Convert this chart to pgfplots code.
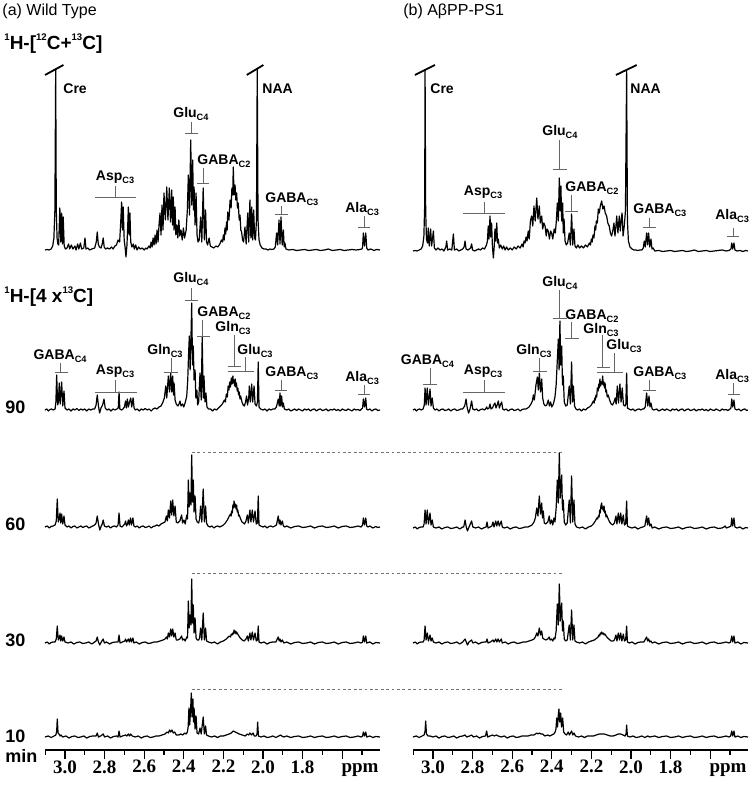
\documentclass[border=0pt]{standalone}
\usepackage{pgfplots}
\pgfplotsset{compat=1.18}
\usepackage{fontspec}
\setmainfont{Liberation Sans}
\newfontfamily\tnr{Liberation Serif}
\newcommand{\lab}[2]{\bfseries #1\raisebox{-0.4ex}{\fontsize{4.6}{5}\selectfont #2}}
\newcommand{\supr}[1]{\raisebox{0.95ex}{\fontsize{4.8}{5}\selectfont #1}}
\newcommand{\brk}[5]{\draw[annot] (axis cs:#1,#2) -- (axis cs:#1,#3); \draw[annot] (axis cs:#4,#3) -- (axis cs:#5,#3);}
\pgfplotsset{
 panel/.style={scale only axis, width=167.5pt, height=375pt,
  xmin=1.409, xmax=3.101, ymin=42, ymax=792, x dir=reverse,
  axis x line*=bottom, axis y line=none, clip=false,
  xtick={1.6,1.8,2.0,2.2,2.4,2.6,2.8,3.0},
  xticklabels={{},1.8,2.0,2.2,2.4,2.6,2.8,3.0},
  minor xtick={1.5,1.7,1.9,2.1,2.3,2.5,2.7,2.9,3.1},
  tick align=outside, major tick length=4.5pt, minor tick length=2.5pt,
  every tick/.style={black, line width=0.6pt},
  axis line style={line width=0.6pt},
  xticklabel style={font=\tnr\bfseries\fontsize{9.5}{11}\selectfont, inner sep=0.5pt},
  anchor=south west},
 spec/.style={black, line width=0.6pt, line join=round},
}
\tikzset{
 annot/.style={draw=black!60, line width=0.45pt},
 lbl/.style={font=\fontsize{7}{8}\selectfont, inner sep=0pt},
 side/.style={font=\fontsize{9}{10}\selectfont\bfseries, inner sep=0pt, anchor=base west},
 slash/.style={black, line width=0.9pt},
 dashln/.style={black!55, line width=0.5pt, dash pattern=on 1.4pt off 1.3pt},
}
\begin{document}
\begin{tikzpicture}
\path[use as bounding box] (0,0) rectangle (376.5pt,396pt);
%================ LEFT PANEL =================
\begin{axis}[panel, at={(22.5pt,21pt)}]
% top 1H-[12C+13C]
\addplot[spec] table[row sep=\\, y expr=\thisrowno{1}+542] {x y\\
3.101 0\\3.090 0.5\\3.080 0\\3.070 1\\3.062 4\\3.056 12\\3.051 40\\3.047 181\\3.044 40\\3.040 12\\3.036 6\\3.032 5\\3.026 42\\3.021 8\\3.017 37\\3.013 6\\3.009 33\\3.004 4\\2.998 1\\2.990 2\\2.982 6\\2.976 1\\2.968 5\\2.960 1\\2.950 4\\2.944 0\\2.936 6\\2.930 1\\2.922 7\\2.916 1\\2.905 2\\2.899 12\\2.894 1\\2.885 2\\2.875 0\\2.865 1\\2.850 2\\2.842 8\\2.837 18\\2.832 6\\2.826 3\\2.818 2\\2.812 6\\2.807 12\\2.802 3\\2.795 1\\2.785 2\\2.775 1\\2.765 3\\2.757 1\\2.748 4\\2.740 5\\2.732 10\\2.724 8\\2.718 30\\2.714 48\\2.710 20\\2.706 43\\2.701 10\\2.696 2\\2.692 -7\\2.687 5\\2.683 25\\2.680 43\\2.676 15\\2.672 37\\2.668 8\\2.662 3\\2.655 6\\2.650 1\\2.643 5\\2.636 0\\2.628 3\\2.620 1\\2.610 2\\2.600 0\\2.592 2\\2.585 1\\2.576 4\\2.570 2\\2.565 8\\2.560 3\\2.555 12\\2.550 5\\2.545 15\\2.540 6\\2.535 20\\2.530 8\\2.525 25\\2.520 37\\2.515 15\\2.510 45\\2.505 20\\2.500 57\\2.493 30\\2.486 63\\2.480 30\\2.473 62\\2.467 28\\2.461 60\\2.457 25\\2.453 53\\2.449 20\\2.444 43\\2.440 15\\2.435 25\\2.430 12\\2.425 30\\2.420 14\\2.414 20\\2.408 10\\2.402 22\\2.396 12\\2.388 20\\2.382 40\\2.377 75\\2.371 35\\2.365 110\\2.360 45\\2.355 90\\2.351 40\\2.348 63\\2.343 25\\2.338 57\\2.333 15\\2.328 8\\2.322 10\\2.315 33\\2.309 8\\2.302 62\\2.296 10\\2.290 40\\2.285 8\\2.280 5\\2.272 12\\2.266 4\\2.258 3\\2.248 2\\2.238 4\\2.228 3\\2.218 6\\2.210 10\\2.204 8\\2.200 15\\2.196 10\\2.192 22\\2.188 16\\2.184 28\\2.181 20\\2.178 38\\2.172 30\\2.166 50\\2.161 42\\2.157 62\\2.153 55\\2.150 83\\2.146 55\\2.141 65\\2.137 50\\2.133 57\\2.129 42\\2.125 47\\2.120 30\\2.116 35\\2.112 20\\2.108 18\\2.103 10\\2.098 8\\2.091 23\\2.085 6\\2.077 37\\2.072 8\\2.066 50\\2.061 12\\2.057 43\\2.052 10\\2.047 40\\2.042 12\\2.038 10\\2.033 30\\2.029 181\\2.025 30\\2.020 10\\2.014 5\\2.005 2\\1.995 1\\1.985 1\\1.975 0\\1.965 1\\1.955 0.5\\1.945 1\\1.938 3\\1.931 17\\1.926 5\\1.919 30\\1.914 6\\1.909 33\\1.903 5\\1.897 20\\1.893 3\\1.889 7\\1.884 1\\1.870 0\\1.850 0.5\\1.830 -0.5\\1.810 0\\1.790 0.5\\1.770 -0.5\\1.750 0\\1.730 0.5\\1.710 -0.5\\1.690 0\\1.670 1\\1.650 -0.5\\1.630 0\\1.610 0.5\\1.590 -0.5\\1.570 0\\1.550 0.5\\1.530 0\\1.510 0.5\\1.500 1\\1.497 3\\1.493 17\\1.487 4\\1.481 17\\1.476 2\\1.470 0\\1.455 1\\1.440 -0.5\\1.425 0.5\\1.409 0\\
};
% 90 min
\addplot[spec] table[row sep=\\, y expr=\thisrowno{1}+382] {x y\\
3.101 0\\3.092 1\\3.084 -1\\3.076 0.5\\3.068 1\\3.060 0\\3.050 1\\3.046 8\\3.042 35\\3.037 5\\3.033 8\\3.029 27\\3.024 6\\3.017 28\\3.011 4\\3.005 19\\3.000 2\\2.990 0\\2.980 1\\2.970 -1\\2.960 1\\2.950 0\\2.940 1.5\\2.930 -0.5\\2.920 1\\2.910 0\\2.900 1\\2.890 -1\\2.880 1\\2.870 0\\2.860 1\\2.850 1\\2.843 5\\2.837 15\\2.831 4\\2.825 -3\\2.818 2\\2.810 5\\2.803 11\\2.797 2\\2.788 0\\2.778 1\\2.768 -1\\2.758 1\\2.748 0\\2.738 1\\2.731 2\\2.727 18\\2.723 1\\2.715 0\\2.707 1\\2.700 3\\2.694 9\\2.690 2\\2.685 11\\2.680 3\\2.674 8\\2.668 12\\2.663 3\\2.656 12\\2.651 2\\2.645 0\\2.635 1\\2.625 -1\\2.615 1\\2.605 0\\2.595 1.5\\2.585 0\\2.575 1\\2.565 -1\\2.555 1\\2.545 2\\2.535 1\\2.525 3\\2.515 4\\2.505 8\\2.498 12\\2.491 24\\2.486 12\\2.478 34\\2.472 18\\2.466 37\\2.461 18\\2.456 34\\2.452 15\\2.449 27\\2.444 10\\2.438 6\\2.430 4\\2.424 6\\2.419 9\\2.414 4\\2.406 6\\2.400 3\\2.392 8\\2.385 14\\2.380 30\\2.376 55\\2.372 74\\2.368 40\\2.364 70\\2.360 107\\2.356 45\\2.352 64\\2.348 30\\2.343 40\\2.339 12\\2.334 20\\2.330 5\\2.325 8\\2.318 37\\2.312 10\\2.307 74\\2.302 12\\2.298 34\\2.293 8\\2.288 17\\2.283 3\\2.275 1\\2.265 1\\2.255 -1\\2.245 1\\2.235 0\\2.225 2\\2.215 4\\2.205 6\\2.195 10\\2.190 8\\2.185 16\\2.180 13\\2.176 24\\2.172 20\\2.168 28\\2.164 23\\2.160 32\\2.156 26\\2.152 34\\2.149 27\\2.146 30\\2.143 24\\2.140 31\\2.137 23\\2.134 27\\2.130 19\\2.127 22\\2.123 15\\2.120 18\\2.116 11\\2.113 14\\2.106 8\\2.100 5\\2.094 4\\2.088 8\\2.083 14\\2.078 5\\2.072 12\\2.069 24\\2.064 8\\2.057 26\\2.052 8\\2.045 24\\2.040 6\\2.033 4\\2.028 8\\2.024 48\\2.020 3\\2.012 1\\2.000 0\\1.990 1\\1.980 -1\\1.970 1\\1.960 0\\1.950 1\\1.940 1\\1.932 3\\1.923 11\\1.918 4\\1.914 17\\1.910 4\\1.906 14\\1.901 3\\1.897 7\\1.892 1\\1.880 0\\1.870 1\\1.860 -1\\1.850 0\\1.840 1\\1.830 -0.5\\1.820 1\\1.810 0\\1.800 -1\\1.790 1\\1.780 0\\1.770 1\\1.760 -1\\1.750 0.5\\1.740 1\\1.730 -1\\1.720 0.5\\1.710 1\\1.700 -0.5\\1.690 0\\1.680 1\\1.670 -1\\1.660 0.5\\1.650 0\\1.640 1\\1.630 -0.5\\1.620 0.5\\1.610 -1\\1.600 1\\1.590 0\\1.580 -0.5\\1.570 1\\1.560 0\\1.550 -1\\1.540 1\\1.530 0\\1.520 0.5\\1.510 -0.5\\1.502 1\\1.497 2\\1.493 11\\1.487 3\\1.481 12\\1.477 1\\1.470 0\\1.460 1\\1.450 -1\\1.440 0.5\\1.430 1\\1.420 -0.5\\1.409 0\\
};
% 60 min
\addplot[spec] table[row sep=\\, y expr=\thisrowno{1}+265] {x y\\
3.101 0\\3.090 1\\3.080 -1\\3.070 0.5\\3.060 1\\3.050 2\\3.044 6\\3.039 28\\3.034 5\\3.029 8\\3.025 14\\3.021 4\\3.017 13\\3.011 3\\3.005 11\\3.000 2\\2.990 0\\2.980 1\\2.970 -1\\2.960 0.5\\2.950 1\\2.940 -1\\2.930 0\\2.920 1\\2.910 -0.5\\2.900 0.5\\2.890 1\\2.880 -1\\2.870 0\\2.860 1\\2.850 2\\2.843 4\\2.837 11\\2.831 3\\2.824 -3\\2.817 1\\2.812 3\\2.807 7\\2.801 1\\2.790 0\\2.780 1\\2.770 -1\\2.760 0.5\\2.750 1\\2.740 0\\2.732 2\\2.727 14\\2.722 1\\2.712 0\\2.703 2\\2.698 3\\2.694 6\\2.689 1\\2.684 3\\2.680 7\\2.675 2\\2.669 9\\2.664 2\\2.657 9\\2.652 1\\2.645 0\\2.635 1\\2.625 -1\\2.615 0.5\\2.605 1\\2.595 -0.5\\2.585 0\\2.575 1\\2.565 -1\\2.555 0.5\\2.545 1\\2.535 2\\2.525 1\\2.515 3\\2.505 4\\2.495 5\\2.488 11\\2.483 6\\2.478 17\\2.472 9\\2.466 26\\2.461 12\\2.456 27\\2.450 11\\2.444 21\\2.438 5\\2.430 4\\2.420 6\\2.411 12\\2.406 4\\2.399 7\\2.393 3\\2.385 12\\2.381 8\\2.377 47\\2.373 20\\2.369 34\\2.364 22\\2.360 72\\2.356 25\\2.352 47\\2.348 15\\2.343 31\\2.338 8\\2.332 5\\2.325 4\\2.320 8\\2.315 21\\2.309 5\\2.302 38\\2.296 5\\2.290 21\\2.285 4\\2.278 1\\2.268 0\\2.258 1\\2.248 -1\\2.238 0.5\\2.228 1\\2.218 0\\2.208 1\\2.200 2\\2.190 4\\2.180 7\\2.170 11\\2.164 13\\2.161 11\\2.158 16\\2.155 14\\2.152 22\\2.149 19\\2.146 26\\2.143 20\\2.140 23\\2.136 18\\2.133 22\\2.130 15\\2.127 17\\2.123 11\\2.120 12\\2.113 8\\2.106 5\\2.099 4\\2.093 3\\2.086 6\\2.079 12\\2.074 4\\2.066 17\\2.061 5\\2.054 17\\2.048 5\\2.040 16\\2.034 3\\2.028 4\\2.024 31\\2.020 2\\2.012 1\\2.000 0\\1.990 1\\1.980 -1\\1.970 0.5\\1.960 1\\1.950 0\\1.940 1\\1.932 2\\1.923 11\\1.918 3\\1.914 7\\1.909 2\\1.902 6\\1.897 1\\1.890 0\\1.880 1\\1.860 -1\\1.840 0.5\\1.820 1\\1.800 -0.5\\1.780 0\\1.760 1\\1.740 -1\\1.720 0.5\\1.700 1\\1.680 -0.5\\1.660 0\\1.640 1\\1.620 -1\\1.600 0.5\\1.580 1\\1.560 -0.5\\1.540 0\\1.520 1\\1.505 0\\1.497 2\\1.493 9\\1.487 2\\1.481 9\\1.476 1\\1.470 0\\1.460 1\\1.445 -1\\1.430 0.5\\1.420 -0.5\\1.409 0\\
};
% 30 min
\addplot[spec] table[row sep=\\, y expr=\thisrowno{1}+149] {x y\\
3.101 0\\3.090 1\\3.080 -1\\3.070 0.5\\3.060 1\\3.050 1\\3.044 4\\3.039 17\\3.034 3\\3.029 5\\3.025 8\\3.021 2\\3.017 7\\3.011 2\\3.005 6\\3.000 1\\2.985 0\\2.970 1\\2.955 -1\\2.940 0.5\\2.925 1\\2.910 -0.5\\2.895 0\\2.880 1\\2.865 -1\\2.850 1\\2.843 2\\2.837 6\\2.831 1\\2.824 -2\\2.817 1\\2.807 4\\2.801 0\\2.790 1\\2.775 -1\\2.760 0.5\\2.745 1\\2.732 1\\2.727 8\\2.722 0\\2.710 1\\2.698 2\\2.694 4\\2.689 1\\2.680 4\\2.675 1\\2.669 5\\2.664 1\\2.657 5\\2.652 0\\2.640 1\\2.625 -1\\2.610 0.5\\2.595 1\\2.580 -0.5\\2.565 0\\2.550 1\\2.535 1\\2.520 2\\2.505 3\\2.495 4\\2.488 6\\2.483 4\\2.478 10\\2.472 6\\2.466 14\\2.461 7\\2.456 14\\2.450 6\\2.444 10\\2.438 3\\2.430 3\\2.420 4\\2.411 7\\2.406 3\\2.399 4\\2.393 2\\2.385 6\\2.381 5\\2.377 42\\2.373 15\\2.369 28\\2.364 18\\2.360 64\\2.356 20\\2.352 38\\2.348 10\\2.343 25\\2.338 5\\2.332 3\\2.325 3\\2.320 5\\2.315 15\\2.309 3\\2.302 30\\2.296 3\\2.290 15\\2.285 2\\2.275 1\\2.260 0\\2.245 1\\2.230 -1\\2.215 1\\2.200 2\\2.185 4\\2.170 7\\2.164 6\\2.160 9\\2.156 8\\2.152 10\\2.149 9\\2.146 13\\2.143 10\\2.140 12\\2.136 9\\2.133 11\\2.125 8\\2.115 5\\2.105 3\\2.095 2\\2.086 4\\2.079 7\\2.074 2\\2.066 10\\2.061 3\\2.054 11\\2.048 3\\2.040 10\\2.034 2\\2.028 3\\2.024 17\\2.020 1\\2.010 0\\1.995 1\\1.980 -1\\1.965 0.5\\1.950 1\\1.935 1\\1.923 6\\1.918 2\\1.914 4\\1.909 1\\1.902 3\\1.895 0\\1.880 1\\1.860 -1\\1.840 0.5\\1.820 1\\1.800 -0.5\\1.780 0\\1.760 1\\1.740 -1\\1.720 0.5\\1.700 1\\1.680 -0.5\\1.660 0\\1.640 1\\1.620 -1\\1.600 0.5\\1.580 1\\1.560 -0.5\\1.540 0\\1.520 1\\1.505 0\\1.497 1\\1.493 7\\1.487 1\\1.481 7\\1.476 0\\1.460 1\\1.445 -1\\1.430 0.5\\1.409 0\\
};
% 10 min
\addplot[spec] table[row sep=\\, y expr=\thisrowno{1}+55] {x y\\
3.101 0\\3.085 1\\3.070 -0.5\\3.055 1\\3.046 2\\3.042 6\\3.039 18\\3.035 4\\3.030 3\\3.025 1\\3.020 2\\3.012 0\\2.995 1\\2.980 -1\\2.965 0.5\\2.950 1\\2.935 -0.5\\2.920 0\\2.905 1\\2.890 -1\\2.875 0.5\\2.860 1\\2.843 1\\2.837 4\\2.831 0\\2.820 1\\2.807 3\\2.800 0\\2.785 1\\2.770 -1\\2.755 0.5\\2.740 1\\2.732 0\\2.727 6\\2.722 0\\2.710 1\\2.694 2\\2.688 1\\2.680 3\\2.674 1\\2.668 3\\2.660 1\\2.645 0\\2.630 1\\2.615 -1\\2.600 0.5\\2.585 1\\2.570 -0.5\\2.555 0\\2.540 1\\2.525 1\\2.510 2\\2.495 3\\2.485 5\\2.478 4\\2.472 7\\2.466 5\\2.460 7\\2.453 4\\2.446 5\\2.438 2\\2.425 2\\2.415 3\\2.405 2\\2.395 4\\2.388 3\\2.382 5\\2.378 10\\2.374 29\\2.370 12\\2.365 30\\2.362 44\\2.358 20\\2.354 38\\2.351 15\\2.348 29\\2.343 8\\2.338 21\\2.333 4\\2.325 3\\2.318 9\\2.312 3\\2.302 20\\2.296 3\\2.290 11\\2.285 2\\2.275 1\\2.260 0\\2.245 1\\2.230 -0.5\\2.215 1\\2.200 1\\2.185 2\\2.170 3\\2.160 4\\2.150 6\\2.140 5\\2.130 4\\2.120 3\\2.105 2\\2.090 1\\2.080 3\\2.072 2\\2.066 4\\2.058 2\\2.050 4\\2.044 1\\2.035 1\\2.030 3\\2.027 15\\2.023 1\\2.010 0\\1.995 1\\1.980 -0.5\\1.965 0\\1.950 1\\1.935 -0.5\\1.920 1\\1.912 2\\1.905 1\\1.895 0\\1.880 1\\1.860 -0.5\\1.840 0.5\\1.820 1\\1.800 -0.5\\1.780 0\\1.760 1\\1.740 -0.5\\1.720 0.5\\1.700 1\\1.680 -0.5\\1.660 0\\1.640 1\\1.620 -0.5\\1.600 0.5\\1.580 1\\1.560 -0.5\\1.540 0\\1.520 1\\1.505 0\\1.497 1\\1.493 5\\1.487 1\\1.481 5\\1.476 0\\1.460 1\\1.445 -0.5\\1.430 0.5\\1.409 0\\
};
% dashed reference lines
\draw[dashln] (axis cs:2.360,339.3) -- (axis cs:0.491,339.3);
\draw[dashln] (axis cs:2.360,218.7) -- (axis cs:0.491,218.7);
\draw[dashln] (axis cs:2.360,102) -- (axis cs:0.491,102);
% titles and side labels
\node[anchor=base west, inner sep=0pt, font=\fontsize{8}{9}\selectfont] at (axis cs:3.318,776) {(a) Wild Type};
\node[anchor=base west, inner sep=0pt, font=\fontsize{9.5}{11}\selectfont\bfseries] at (axis cs:3.308,742) {\supr{1}H-[\supr{12}C+\supr{13}C]};
\node[anchor=base west, inner sep=0pt, font=\fontsize{9.5}{11}\selectfont\bfseries] at (axis cs:3.308,489) {\supr{1}H-[4 x\supr{13}C]};
\node[side] at (axis cs:3.303,378.5) {90};
\node[side] at (axis cs:3.303,261.5) {60};
\node[side] at (axis cs:3.303,145.5) {30};
\node[side] at (axis cs:3.303,49) {10};
\node[side] at (axis cs:3.303,29) {min};
\node[anchor=base, inner sep=0pt, font=\tnr\bfseries\fontsize{9.5}{11}\selectfont] at (axis cs:1.51,19) {ppm};
% top annotations
\draw[slash] (axis cs:3.101,717) -- (axis cs:3.008,727);
\draw[slash] (axis cs:2.082,717) -- (axis cs:1.998,727);
\node[lbl, anchor=base west] at (axis cs:3.010,698) {\lab{Cre}{}};
\node[lbl, anchor=base west] at (axis cs:2.005,698) {\lab{NAA}{}};
\node[lbl, anchor=base] at (axis cs:2.364,674) {\lab{Glu}{C4}};
\brk{2.360}{670}{659}{2.394}{2.328}
\node[lbl, anchor=base west] at (axis cs:2.333,627) {\lab{GABA}{C2}};
\brk{2.303}{624}{609}{2.333}{2.273}
\node[lbl, anchor=base] at (axis cs:2.747,611) {\lab{Asp}{C3}};
\brk{2.744}{606}{595}{2.848}{2.641}
\node[lbl, anchor=base west] at (axis cs:1.990,589) {\lab{GABA}{C3}};
\brk{1.907}{586}{578}{1.939}{1.874}
\node[lbl, anchor=base west] at (axis cs:1.586,579) {\lab{Ala}{C3}};
\brk{1.490}{576}{565}{1.520}{1.460}
% 90 annotations
\node[lbl, anchor=base] at (axis cs:2.364,509) {\lab{Glu}{C4}};
\brk{2.360}{504}{492}{2.394}{2.328}
\node[lbl, anchor=base west] at (axis cs:2.333,475) {\lab{GABA}{C2}};
\brk{2.305}{472}{456}{2.333}{2.268}
\node[lbl, anchor=base west] at (axis cs:2.242,460) {\lab{Gln}{C3}};
\brk{2.144}{457}{426}{2.177}{2.111}
\node[lbl, anchor=base west] at (axis cs:2.131,437) {\lab{Glu}{C3}};
\brk{2.088}{435}{421}{2.177}{2.045}
\node[lbl, anchor=base] at (axis cs:3.025,432) {\lab{GABA}{C4}};
\brk{3.023}{429}{420}{3.051}{2.985}
\node[lbl, anchor=base] at (axis cs:2.747,417) {\lab{Asp}{C3}};
\brk{2.744}{412}{400}{2.848}{2.636}
\node[lbl, anchor=base] at (axis cs:2.495,437) {\lab{Gln}{C3}};
\brk{2.461}{434}{420}{2.500}{2.429}
\node[lbl, anchor=base west] at (axis cs:1.990,415) {\lab{GABA}{C3}};
\brk{1.909}{412}{402}{1.939}{1.879}
\node[lbl, anchor=base west] at (axis cs:1.586,410) {\lab{Ala}{C3}};
\brk{1.488}{407}{398}{1.520}{1.460}
\end{axis}
%================ RIGHT PANEL =================
\begin{axis}[panel, at={(206.5pt,21pt)}]
% top
\addplot[spec] table[row sep=\\, y expr=\thisrowno{1}+541] {x y\\
3.101 0\\3.090 0.5\\3.080 0\\3.070 1\\3.060 2\\3.052 5\\3.046 15\\3.042 45\\3.040 181\\3.037 40\\3.033 12\\3.028 8\\3.024 23\\3.019 5\\3.012 22\\3.007 5\\2.998 20\\2.993 3\\2.985 1\\2.975 3\\2.965 1\\2.955 2\\2.945 0\\2.935 4\\2.931 10\\2.926 1\\2.915 2\\2.905 1\\2.897 17\\2.892 1\\2.880 2\\2.870 0\\2.860 1\\2.850 2\\2.843 4\\2.838 10\\2.833 2\\2.823 1\\2.810 3\\2.805 7\\2.800 1\\2.790 0\\2.780 1\\2.770 2\\2.760 1\\2.750 3\\2.740 2\\2.730 6\\2.725 10\\2.721 25\\2.717 12\\2.712 35\\2.708 14\\2.704 28\\2.700 5\\2.695 -7\\2.691 4\\2.687 22\\2.683 10\\2.678 28\\2.674 8\\2.670 12\\2.665 3\\2.658 6\\2.650 2\\2.643 5\\2.636 1\\2.628 4\\2.620 1\\2.610 3\\2.600 1\\2.590 4\\2.580 2\\2.570 5\\2.560 3\\2.550 7\\2.545 4\\2.540 10\\2.535 8\\2.530 14\\2.525 10\\2.519 20\\2.514 12\\2.508 30\\2.502 35\\2.496 25\\2.490 45\\2.484 30\\2.476 53\\2.470 32\\2.463 45\\2.458 28\\2.451 35\\2.446 22\\2.440 28\\2.434 25\\2.428 15\\2.424 22\\2.418 20\\2.412 12\\2.406 20\\2.401 18\\2.395 12\\2.388 22\\2.382 18\\2.377 30\\2.372 48\\2.367 30\\2.362 73\\2.358 40\\2.354 65\\2.350 30\\2.345 48\\2.342 18\\2.338 32\\2.333 10\\2.327 6\\2.320 8\\2.312 18\\2.306 6\\2.300 37\\2.294 6\\2.288 22\\2.283 5\\2.276 3\\2.268 6\\2.260 3\\2.250 5\\2.240 3\\2.230 6\\2.220 4\\2.210 8\\2.205 6\\2.200 12\\2.196 9\\2.192 16\\2.187 13\\2.182 25\\2.178 21\\2.175 30\\2.170 28\\2.165 42\\2.160 38\\2.155 45\\2.148 50\\2.142 42\\2.136 45\\2.130 38\\2.123 35\\2.117 28\\2.110 25\\2.104 18\\2.098 15\\2.092 20\\2.086 28\\2.081 15\\2.076 25\\2.072 35\\2.066 18\\2.059 35\\2.054 20\\2.050 30\\2.045 38\\2.040 15\\2.034 25\\2.028 40\\2.022 181\\2.018 30\\2.013 10\\2.005 4\\1.995 2\\1.985 1\\1.975 1\\1.965 0.5\\1.955 1\\1.945 1\\1.938 3\\1.933 10\\1.928 4\\1.921 18\\1.916 6\\1.911 18\\1.905 4\\1.899 12\\1.894 2\\1.888 3\\1.880 0\\1.860 0.5\\1.840 -0.5\\1.820 0\\1.800 0.5\\1.780 -0.5\\1.760 0\\1.740 0.5\\1.720 -0.5\\1.700 0\\1.680 1\\1.660 -0.5\\1.640 0\\1.620 0.5\\1.600 -0.5\\1.580 0\\1.560 0.5\\1.540 1\\1.520 0\\1.505 0.5\\1.495 2\\1.491 8\\1.486 2\\1.480 8\\1.475 1\\1.465 0\\1.450 0.5\\1.435 -0.5\\1.420 0.5\\1.409 0\\
};
% 90
\addplot[spec] table[row sep=\\, y expr=\thisrowno{1}+382] {x y\\
3.101 0\\3.092 1\\3.084 -1\\3.076 0.5\\3.068 1\\3.060 0\\3.050 1\\3.044 5\\3.040 22\\3.035 5\\3.029 22\\3.023 5\\3.015 21\\3.010 4\\3.004 12\\2.998 2\\2.990 0\\2.980 1\\2.970 -1\\2.960 0.5\\2.950 1\\2.940 -0.5\\2.930 0\\2.920 1\\2.910 -1\\2.900 0.5\\2.890 1\\2.880 -0.5\\2.870 0\\2.860 1\\2.850 1\\2.840 4\\2.833 11\\2.827 2\\2.820 -3\\2.813 1\\2.805 9\\2.799 1\\2.790 0\\2.780 1\\2.770 -1\\2.760 0.5\\2.750 1\\2.740 0\\2.735 1\\2.729 3\\2.724 1\\2.717 2\\2.712 6\\2.707 1\\2.700 2\\2.693 5\\2.687 7\\2.682 2\\2.676 5\\2.670 9\\2.665 2\\2.658 6\\2.653 8\\2.648 1\\2.640 0\\2.630 1\\2.620 -1\\2.610 0.5\\2.600 1\\2.590 -0.5\\2.580 0\\2.570 1\\2.560 -1\\2.550 0.5\\2.540 1\\2.530 1\\2.522 2\\2.515 3\\2.505 6\\2.498 9\\2.493 15\\2.488 10\\2.480 25\\2.473 33\\2.468 20\\2.463 37\\2.457 18\\2.451 31\\2.446 12\\2.440 6\\2.432 4\\2.425 5\\2.418 10\\2.412 4\\2.406 8\\2.400 3\\2.392 6\\2.384 13\\2.378 25\\2.372 50\\2.367 71\\2.363 40\\2.359 89\\2.355 45\\2.350 64\\2.346 25\\2.342 34\\2.337 8\\2.330 4\\2.322 5\\2.312 24\\2.306 6\\2.300 48\\2.295 8\\2.291 24\\2.285 4\\2.278 1\\2.270 0\\2.260 1\\2.250 -1\\2.240 1\\2.230 0\\2.220 2\\2.210 3\\2.200 5\\2.190 9\\2.186 7\\2.183 12\\2.180 10\\2.177 15\\2.173 13\\2.170 22\\2.166 19\\2.163 26\\2.160 22\\2.157 31\\2.153 24\\2.150 28\\2.146 26\\2.143 34\\2.140 25\\2.137 28\\2.134 22\\2.131 27\\2.127 18\\2.124 20\\2.120 13\\2.115 15\\2.108 10\\2.100 6\\2.093 5\\2.086 8\\2.080 12\\2.075 6\\2.069 24\\2.063 7\\2.056 26\\2.050 8\\2.044 22\\2.038 5\\2.030 4\\2.026 6\\2.022 37\\2.018 2\\2.010 1\\2.000 0\\1.990 1\\1.980 -1\\1.970 0.5\\1.960 1\\1.950 0\\1.942 1\\1.935 1\\1.928 3\\1.921 17\\1.915 4\\1.909 14\\1.904 3\\1.899 7\\1.893 1\\1.885 0\\1.870 1\\1.860 -1\\1.850 0\\1.840 1\\1.830 -0.5\\1.820 1\\1.810 0\\1.800 -1\\1.790 1\\1.780 0\\1.770 1\\1.760 -1\\1.750 0.5\\1.740 1\\1.730 -1\\1.720 0.5\\1.710 1\\1.700 -0.5\\1.690 0\\1.680 1\\1.670 -1\\1.660 0.5\\1.650 0\\1.640 1\\1.630 -0.5\\1.620 0.5\\1.610 -1\\1.600 1\\1.590 0\\1.580 -0.5\\1.570 1\\1.560 0\\1.550 -1\\1.540 1\\1.530 0\\1.520 0.5\\1.510 -0.5\\1.500 1\\1.495 2\\1.491 11\\1.486 3\\1.480 10\\1.475 1\\1.465 0\\1.455 1\\1.445 -1\\1.435 0.5\\1.425 1\\1.415 -0.5\\1.409 0\\
};
% 60
\addplot[spec] table[row sep=\\, y expr=\thisrowno{1}+264] {x y\\
3.101 0\\3.090 1\\3.080 -1\\3.070 0.5\\3.060 1\\3.050 1\\3.045 4\\3.040 18\\3.035 4\\3.029 18\\3.023 4\\3.015 15\\3.010 3\\3.004 8\\2.998 1\\2.985 0\\2.970 1\\2.955 -1\\2.940 0.5\\2.925 1\\2.910 -0.5\\2.895 0\\2.880 1\\2.865 -1\\2.850 1\\2.845 1\\2.838 8\\2.832 1\\2.826 -3\\2.818 1\\2.805 7\\2.799 1\\2.785 0\\2.770 1\\2.755 -1\\2.740 0.5\\2.732 1\\2.727 6\\2.722 0\\2.712 1\\2.703 2\\2.697 6\\2.692 1\\2.683 7\\2.678 2\\2.671 7\\2.665 2\\2.655 7\\2.650 1\\2.640 0\\2.625 1\\2.610 -1\\2.595 0.5\\2.580 1\\2.565 -0.5\\2.550 0\\2.535 1\\2.520 1\\2.510 2\\2.500 3\\2.490 6\\2.483 10\\2.476 20\\2.470 12\\2.463 32\\2.457 14\\2.451 25\\2.447 10\\2.443 17\\2.438 5\\2.430 4\\2.420 6\\2.413 12\\2.408 4\\2.401 8\\2.395 3\\2.389 10\\2.384 6\\2.378 20\\2.372 48\\2.367 25\\2.362 75\\2.357 30\\2.350 53\\2.346 18\\2.342 28\\2.337 6\\2.330 3\\2.322 5\\2.312 28\\2.306 5\\2.300 52\\2.294 6\\2.288 28\\2.283 4\\2.275 1\\2.260 0\\2.245 1\\2.230 -1\\2.215 1\\2.200 2\\2.190 4\\2.180 7\\2.172 10\\2.168 9\\2.165 12\\2.161 11\\2.158 18\\2.155 15\\2.152 22\\2.148 25\\2.145 19\\2.142 21\\2.139 17\\2.136 22\\2.133 15\\2.130 17\\2.126 11\\2.123 13\\2.115 9\\2.108 6\\2.100 4\\2.092 3\\2.084 5\\2.076 12\\2.071 4\\2.064 15\\2.058 5\\2.052 15\\2.046 4\\2.039 13\\2.033 3\\2.027 4\\2.022 27\\2.018 2\\2.010 1\\1.995 0\\1.980 1\\1.965 -1\\1.950 0.5\\1.940 1\\1.930 2\\1.921 12\\1.916 3\\1.911 10\\1.905 2\\1.899 4\\1.893 0\\1.880 1\\1.860 -1\\1.840 0.5\\1.820 1\\1.800 -0.5\\1.780 0\\1.760 1\\1.740 -1\\1.720 0.5\\1.700 1\\1.680 -0.5\\1.660 0\\1.640 1\\1.620 -1\\1.600 0.5\\1.580 1\\1.560 -0.5\\1.540 0\\1.530 1\\1.525 2\\1.518 0\\1.505 1\\1.495 2\\1.491 10\\1.486 2\\1.480 10\\1.475 1\\1.465 0\\1.450 1\\1.435 -1\\1.420 0.5\\1.409 0\\
};
% 30
\addplot[spec] table[row sep=\\, y expr=\thisrowno{1}+149] {x y\\
3.101 0\\3.090 1\\3.080 -1\\3.070 0.5\\3.060 1\\3.050 1\\3.045 3\\3.040 17\\3.035 3\\3.029 10\\3.023 2\\3.015 8\\3.010 2\\3.004 5\\2.998 1\\2.985 0\\2.970 1\\2.955 -1\\2.940 0.5\\2.925 1\\2.910 -0.5\\2.895 0\\2.880 1\\2.865 -1\\2.850 1\\2.838 4\\2.832 1\\2.826 -2\\2.818 1\\2.805 3\\2.799 0\\2.785 1\\2.770 -1\\2.755 0.5\\2.740 1\\2.732 1\\2.727 4\\2.722 0\\2.710 1\\2.697 3\\2.692 1\\2.683 4\\2.678 1\\2.671 4\\2.665 1\\2.655 4\\2.650 0\\2.635 1\\2.620 -1\\2.605 0.5\\2.590 1\\2.575 -0.5\\2.560 0\\2.545 1\\2.530 1\\2.515 2\\2.500 3\\2.490 4\\2.483 6\\2.476 10\\2.470 7\\2.463 15\\2.457 8\\2.451 12\\2.446 5\\2.440 4\\2.430 3\\2.420 4\\2.413 6\\2.408 3\\2.401 4\\2.395 2\\2.389 5\\2.384 4\\2.378 12\\2.372 39\\2.367 18\\2.362 59\\2.357 22\\2.350 40\\2.346 12\\2.342 22\\2.337 4\\2.330 2\\2.322 3\\2.312 18\\2.306 3\\2.300 33\\2.294 3\\2.288 18\\2.283 2\\2.275 1\\2.260 0\\2.245 1\\2.230 -1\\2.215 1\\2.200 2\\2.185 3\\2.172 5\\2.166 6\\2.162 8\\2.158 7\\2.155 10\\2.151 9\\2.148 11\\2.144 9\\2.140 10\\2.136 8\\2.132 9\\2.122 6\\2.112 4\\2.100 2\\2.090 2\\2.084 3\\2.076 8\\2.071 2\\2.064 10\\2.058 3\\2.052 10\\2.046 2\\2.039 9\\2.033 2\\2.027 3\\2.022 17\\2.018 1\\2.008 0\\1.995 1\\1.980 -1\\1.965 0.5\\1.950 1\\1.935 1\\1.921 6\\1.916 2\\1.911 4\\1.905 1\\1.899 2\\1.893 0\\1.880 1\\1.860 -1\\1.840 0.5\\1.820 1\\1.800 -0.5\\1.780 0\\1.760 1\\1.740 -1\\1.720 0.5\\1.700 1\\1.680 -0.5\\1.660 0\\1.640 1\\1.620 -1\\1.600 0.5\\1.580 1\\1.560 -0.5\\1.540 0\\1.520 1\\1.505 0\\1.497 1\\1.491 7\\1.486 1\\1.480 7\\1.475 0\\1.460 1\\1.445 -1\\1.430 0.5\\1.409 0\\
};
% 10
\addplot[spec] table[row sep=\\, y expr=\thisrowno{1}+55] {x y\\
3.101 0\\3.085 1\\3.070 -0.5\\3.055 1\\3.045 2\\3.040 6\\3.037 16\\3.033 3\\3.025 1\\3.015 1\\3.000 0\\2.985 1\\2.970 -1\\2.955 0.5\\2.940 1\\2.925 -0.5\\2.910 0\\2.895 1\\2.880 -1\\2.865 0.5\\2.850 1\\2.838 2\\2.830 0\\2.815 1\\2.805 2\\2.795 0\\2.780 1\\2.765 -1\\2.750 0.5\\2.735 1\\2.729 6\\2.724 0\\2.712 1\\2.700 2\\2.690 1\\2.680 2\\2.670 1\\2.655 0\\2.640 1\\2.625 -1\\2.610 0.5\\2.595 1\\2.580 -0.5\\2.565 0\\2.550 1\\2.535 1\\2.520 1\\2.505 2\\2.490 2\\2.482 3\\2.476 4\\2.470 3\\2.463 4\\2.455 3\\2.446 3\\2.435 1\\2.420 2\\2.410 1\\2.400 2\\2.390 3\\2.383 5\\2.379 8\\2.375 19\\2.371 10\\2.367 22\\2.364 28\\2.360 15\\2.355 24\\2.351 10\\2.345 19\\2.340 5\\2.333 3\\2.325 2\\2.317 5\\2.311 2\\2.300 6\\2.294 2\\2.288 4\\2.280 1\\2.265 0\\2.250 1\\2.235 -0.5\\2.220 1\\2.205 1\\2.190 1\\2.175 2\\2.160 3\\2.148 3\\2.135 3\\2.120 2\\2.105 1\\2.090 1\\2.076 2\\2.064 3\\2.052 3\\2.040 2\\2.030 1\\2.025 3\\2.022 12\\2.018 1\\2.005 0\\1.990 1\\1.975 -0.5\\1.960 0\\1.945 1\\1.930 -0.5\\1.915 1\\1.905 0\\1.880 1\\1.860 -0.5\\1.840 0.5\\1.820 1\\1.800 -0.5\\1.780 0\\1.760 1\\1.740 -0.5\\1.720 0.5\\1.700 1\\1.680 -0.5\\1.660 0\\1.640 1\\1.620 -0.5\\1.600 0.5\\1.580 1\\1.560 -0.5\\1.540 0\\1.520 1\\1.505 0\\1.497 1\\1.491 6\\1.486 1\\1.480 6\\1.475 0\\1.460 1\\1.445 -0.5\\1.430 0.5\\1.409 0\\
};
\node[anchor=base west, inner sep=0pt, font=\fontsize{8}{9}\selectfont] at (axis cs:3.152,776) {(b) AβPP-PS1};
\node[anchor=base, inner sep=0pt, font=\tnr\bfseries\fontsize{9.5}{11}\selectfont] at (axis cs:1.51,19) {ppm};
% top annotations
\draw[slash] (axis cs:3.091,717) -- (axis cs:2.990,727);
\draw[slash] (axis cs:2.076,717) -- (axis cs:1.971,727);
\node[lbl, anchor=base west] at (axis cs:3.015,698) {\lab{Cre}{}};
\node[lbl, anchor=base west] at (axis cs:2.005,698) {\lab{NAA}{}};
\node[lbl, anchor=base] at (axis cs:2.359,656) {\lab{Glu}{C4}};
\brk{2.359}{652}{623}{2.394}{2.323}
\node[lbl, anchor=base west] at (axis cs:2.333,600) {\lab{GABA}{C2}};
\brk{2.300}{597}{581}{2.333}{2.268}
\node[lbl, anchor=base] at (axis cs:2.747,596) {\lab{Asp}{C3}};
\brk{2.742}{590}{579}{2.848}{2.636}
\node[lbl, anchor=base west] at (axis cs:1.990,578) {\lab{GABA}{C3}};
\brk{1.909}{574}{565}{1.939}{1.874}
\node[lbl, anchor=base west] at (axis cs:1.576,572) {\lab{Ala}{C3}};
\brk{1.483}{564}{556}{1.515}{1.455}
% 90 annotations
\node[lbl, anchor=base] at (axis cs:2.359,505) {\lab{Glu}{C4}};
\brk{2.359}{502}{474}{2.394}{2.323}
\node[lbl, anchor=base west] at (axis cs:2.333,472) {\lab{GABA}{C2}};
\brk{2.300}{470}{454}{2.333}{2.263}
\node[lbl, anchor=base west] at (axis cs:2.242,458) {\lab{Gln}{C3}};
\brk{2.143}{457}{425}{2.172}{2.106}
\node[lbl, anchor=base west] at (axis cs:2.126,442) {\lab{Glu}{C3}};
\brk{2.084}{439}{420}{2.172}{2.040}
\node[lbl, anchor=base] at (axis cs:3.028,427) {\lab{GABA}{C4}};
\brk{3.015}{424}{408}{3.051}{2.980}
\node[lbl, anchor=base] at (axis cs:2.747,417) {\lab{Asp}{C3}};
\brk{2.742}{412}{400}{2.848}{2.636}
\node[lbl, anchor=base] at (axis cs:2.490,437) {\lab{Gln}{C3}};
\brk{2.460}{434}{421}{2.495}{2.424}
\node[lbl, anchor=base west] at (axis cs:1.990,415) {\lab{GABA}{C3}};
\brk{1.907}{412}{402}{1.939}{1.874}
\node[lbl, anchor=base west] at (axis cs:1.576,412) {\lab{Ala}{C3}};
\brk{1.480}{409}{398}{1.510}{1.449}
\end{axis}
\end{tikzpicture}
\end{document}
